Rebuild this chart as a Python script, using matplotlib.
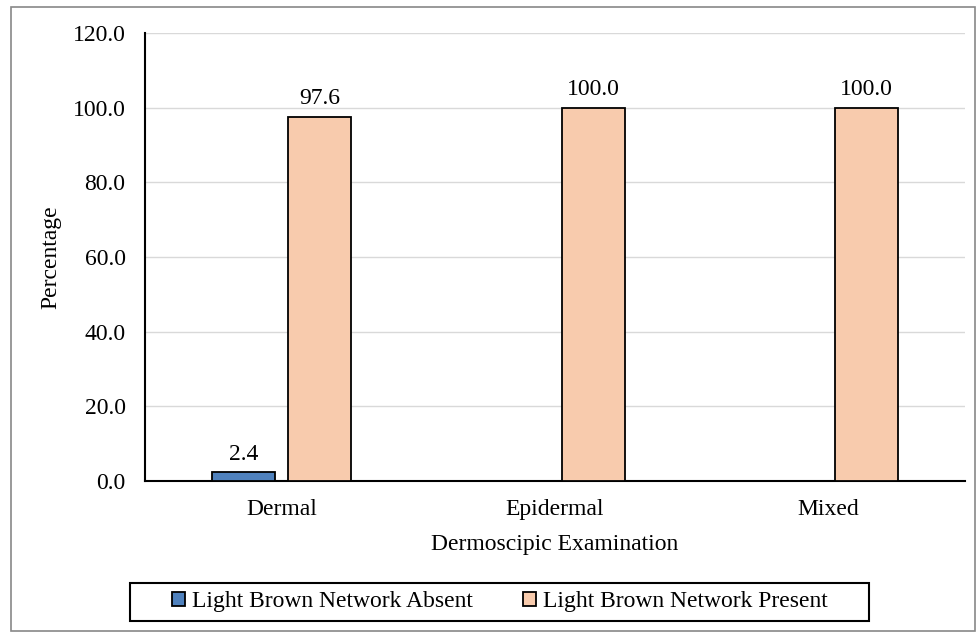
import numpy as np
import matplotlib.pyplot as plt
from matplotlib.patches import Rectangle

plt.rcParams['font.family'] = ['Liberation Serif', 'DejaVu Serif']

categories = ['Dermal', 'Epidermal', 'Mixed']
absent = [2.4, 0.0, 0.0]
present = [97.6, 100.0, 100.0]
series_names = ['Light Brown Network Absent', 'Light Brown Network Present']

fs = 17

fig = plt.figure(figsize=(9.78, 6.33), dpi=100)
ax = fig.add_axes([145 / 978, 1 - 481 / 633, 820 / 978, 448 / 633])

x = np.arange(len(categories))
w = 0.23
off = 0.14
b1 = ax.bar(x - off, absent, w, color='#4F81BD', edgecolor='black', linewidth=1.3,
            label=series_names[0], zorder=3)
b2 = ax.bar(x + off, present, w, color='#F8CBAD', edgecolor='black', linewidth=1.3,
            label=series_names[1], zorder=3)

for bars, vals in [(b1, absent), (b2, present)]:
    for r, v in zip(bars, vals):
        if v > 0:
            ax.text(r.get_x() + r.get_width() / 2, v + 2.0, f'{v:.1f}',
                    ha='center', va='bottom', fontsize=fs)

ax.set_xlim(-0.5, 2.5)
ax.set_ylim(0, 120)
ax.set_yticks(np.arange(0, 121, 20))
ax.set_yticklabels([f'{v:.1f}' for v in np.arange(0, 121, 20)], fontsize=fs)
ax.set_xticks(x)
ax.set_xticklabels(categories, fontsize=fs)
ax.tick_params(length=0)
ax.tick_params(axis='x', pad=13)
ax.tick_params(axis='y', pad=14)
ax.grid(axis='y', color='#d9d9d9', linewidth=1, zorder=0)
for s in ['top', 'right']:
    ax.spines[s].set_visible(False)
ax.spines['left'].set_linewidth(1.5)
ax.spines['bottom'].set_linewidth(1.5)

ax.set_xlabel('Dermoscipic Examination', fontsize=fs, labelpad=10)
ax.set_ylabel('Percentage', fontsize=fs, labelpad=8)

leg = fig.legend(loc='center', bbox_to_anchor=(500 / 978, 1 - 602 / 633), ncol=2,
                 fontsize=fs, frameon=False,
                 handlelength=0.55, handleheight=0.55, handletextpad=0.3,
                 columnspacing=2.1)

# legend box
fig.patches.append(Rectangle((130 / 978, 1 - 621 / 633), 739 / 978, 38 / 633,
                             transform=fig.transFigure, fill=False,
                             edgecolor='black', linewidth=1.5))

# outer chart border
fig.patches.append(Rectangle((11 / 978, 1 - 631 / 633), 964 / 978, 624 / 633,
                             transform=fig.transFigure, fill=False,
                             edgecolor='#888888', linewidth=1.2))

fig.savefig('out.png', dpi=100)
